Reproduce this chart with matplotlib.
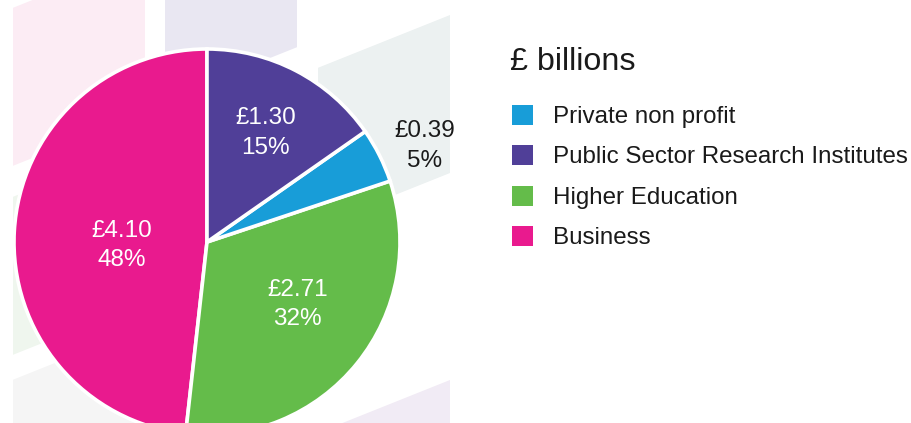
import numpy as np
import matplotlib
matplotlib.use("Agg")
import matplotlib.pyplot as plt
from matplotlib.patches import Polygon, Rectangle

plt.rcParams['font.family'] = ['Liberation Sans', 'DejaVu Sans']

# R&D spend by sector, £ billions
categories = ["Private non profit", "Public Sector Research Institutes",
              "Higher Education", "Business"]
values = [0.39, 1.30, 2.71, 4.10]
percents = [5, 15, 32, 48]
colors = ["#189dd8", "#503f98", "#64bc4a", "#e91a8e"]

# pie goes anticlockwise from 12 o'clock in this order
pie_order = [3, 2, 0, 1]

# label placement per category: distance from centre, angle nudge (deg), text colour
label_dist = [1.24, 0.66, 0.56, 0.44]
label_nudge = [-2, 0, 6, 3]
label_color = ["#1a1a1a", "white", "white", "white"]

W, H = 912, 423
fig = plt.figure(figsize=(W / 100, H / 100), dpi=100)

# faint slanted tiles behind the pie (pixel coords)
bg = fig.add_axes([0, 0, 1, 1], zorder=0)
bg.set_xlim(0, W)
bg.set_ylim(H, 0)
bg.axis("off")
tiles = [
    (13, 145, 13, "#fcecf4"),
    (165, 297, 8, "#e9e7f2"),
    (13, 145, 202, "#eff6ee"),
    (13, 145, 385, "#f5f5f5"),
    (318, 450, 195, "#ecf1f1"),
    (318, 450, 560, "#f1ebf5"),
]
slope, tile_h = 0.4, 158
for x0, x1, c, col in tiles:
    pts = [(x0, c - slope * x0), (x1, c - slope * x1),
           (x1, c + tile_h - slope * x1), (x0, c + tile_h - slope * x0)]
    bg.add_patch(Polygon(pts, closed=True, facecolor=col, edgecolor="none"))

# pie: centre (207, 242) px, radius 193 px
cx, cy, r = 207, 242, 193
ax = fig.add_axes([(cx - r) / W, (H - cy - r) / H, 2 * r / W, 2 * r / H], zorder=1)
wedges, _ = ax.pie([values[i] for i in pie_order],
                   colors=[colors[i] for i in pie_order],
                   startangle=90, counterclock=True, radius=1,
                   wedgeprops=dict(edgecolor="white", linewidth=2.6))
ax.set_xlim(-1, 1)
ax.set_ylim(-1, 1)
ax.axis("off")

for w, i in zip(wedges, pie_order):
    ang = np.radians((w.theta1 + w.theta2) / 2 + label_nudge[i])
    d = label_dist[i]
    ax.text(d * np.cos(ang), d * np.sin(ang) - 0.02,
            "£%.2f\n%d%%" % (values[i], percents[i]),
            ha="center", va="center", fontsize=17.5, color=label_color[i],
            linespacing=1.44, clip_on=False)

# legend
fig.text(510 / W, (H - 70) / H, "£ billions", fontsize=23.2, color="#1a1a1a",
         ha="left", va="baseline")
for k, (name, col) in enumerate(zip(categories, colors)):
    top = 105 + 40.4 * k
    fig.add_artist(Rectangle((512 / W, (H - top - 20) / H), 21 / W, 20 / H,
                             transform=fig.transFigure, facecolor=col,
                             edgecolor="none"))
    fig.text(553 / W, (H - 123 - 40.3 * k) / H, name, fontsize=17.4,
             color="#1a1a1a", ha="left", va="baseline")

fig.savefig("out.png", dpi=100)
